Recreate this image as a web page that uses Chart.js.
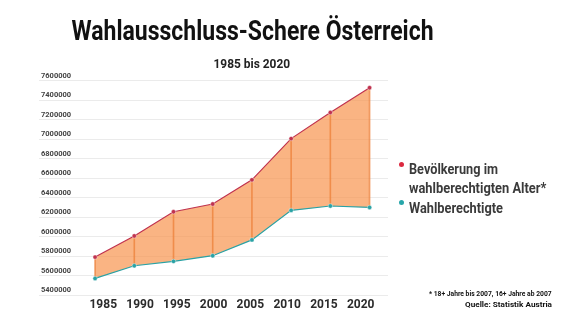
<!DOCTYPE html>
<html>
<head>
<meta charset="utf-8">
<script src="https://cdn.jsdelivr.net/npm/chart.js@4"></script>
<style>
html, body { margin: 0; padding: 0; background: #fff; }
#wrap { position: relative; width: 575px; height: 324px; overflow: hidden; font-family: Roboto, sans-serif; font-weight: 700; }
#wrap canvas { position: absolute; left: 0; top: 0; }
.t { position: absolute; white-space: nowrap; line-height: 1; }
.dot { position: absolute; width: 5px; height: 5px; border-radius: 50%; }
</style>
</head>
<body>
<div id="wrap">
  <canvas id="c" width="575" height="324"></canvas>
  <div class="t" style="font-size:27px;top:18px;color:#111" data-a="c" data-x="252.5" data-w="362">Wahlausschluss-Schere Österreich</div>
  <div class="t" style="font-size:13px;top:57px;color:#222" data-a="c" data-x="251.5" data-w="77">1985 bis 2020</div>

  <span class="dot" style="left:399px;top:161.5px;background:#dc2a40"></span>
  <div class="t" style="font-size:14px;top:162px;color:#3b3b3b" data-a="l" data-x="409.3" data-w="89">Bevölkerung im</div>
  <div class="t" style="font-size:14px;top:181px;color:#3b3b3b" data-a="l" data-x="409.3" data-w="137">wahlberechtigten Alter*</div>
  <span class="dot" style="left:399px;top:200px;background:#27a6aa"></span>
  <div class="t" style="font-size:14px;top:200.5px;color:#3b3b3b" data-a="l" data-x="409.3" data-w="94">Wahlberechtigte</div>

  <div class="t" style="font-size:8px;top:290px;color:#111" data-a="r" data-x="551.7" data-w="123">* 18+ Jahre bis 2007, 16+ Jahre ab 2007</div>
  <div class="t" style="font-size:8px;top:301px;color:#111" data-a="r" data-x="551.7" data-w="87">Quelle: Statistik Austria</div>
</div>
<script>
'use strict';
// Wahlausschluss-Schere: population of voting age vs. eligible voters, Austria 1985-2020.

const years = ['1985', '1990', '1995', '2000', '2005', '2010', '2015', '2020'];
const bevoelkerung = [5791000, 6008000, 6256000, 6335000, 6583000, 7006000, 7274000, 7528000];
const wahlberechtigte = [5572000, 5702000, 5747000, 5805000, 5967000, 6270000, 6315000, 6300000];
const yTicks = [5400000, 5600000, 5800000, 6000000, 6200000, 6400000, 6600000, 6800000, 7000000, 7200000, 7400000, 7600000];

const RED = '#c0334f', TEAL = '#2aa2a5', FILL = 'rgba(248,148,78,0.7)', BAR = 'rgba(236,128,58,0.75)';

// squeeze the html text lines to the widths of the condensed original font
document.querySelectorAll('.t').forEach((el) => {
  const w = el.offsetWidth, target = +el.dataset.w, x = +el.dataset.x, s = target / w;
  if (el.dataset.a === 'c') { el.style.left = (x - w / 2) + 'px'; el.style.transformOrigin = 'center'; }
  else if (el.dataset.a === 'r') { el.style.left = (x - w) + 'px'; el.style.transformOrigin = 'right'; }
  else { el.style.left = x + 'px'; el.style.transformOrigin = 'left'; }
  el.style.transform = 'scaleX(' + s + ')';
});

const pts = (arr) => arr.map((v, i) => ({ x: i, y: v }));

Chart.defaults.font.family = 'Roboto, sans-serif';

new Chart(document.getElementById('c'), {
  type: 'line',
  data: {
    datasets: [
      { label: 'Bevölkerung im wahlberechtigten Alter*', data: pts(bevoelkerung), xAxisID: 'x',
        borderColor: RED, borderWidth: 1.2, backgroundColor: FILL, fill: '+1', tension: 0,
        pointRadius: 2.2, pointBackgroundColor: RED, pointBorderColor: 'rgba(255,255,255,0.5)', pointBorderWidth: 0.8, order: 0 },
      { label: 'Wahlberechtigte', data: pts(wahlberechtigte), xAxisID: 'x',
        borderColor: TEAL, borderWidth: 1.2, fill: false, tension: 0,
        pointRadius: 2.2, pointBackgroundColor: TEAL, pointBorderColor: 'rgba(255,255,255,0.5)', pointBorderWidth: 0.8, order: 0 },
      { type: 'bar', label: 'Schere', xAxisID: 'x',
        data: years.map((_, i) => ({ x: i, y: [wahlberechtigte[i], bevoelkerung[i]] })),
        backgroundColor: BAR, barThickness: 1, order: 5 },
    ],
  },
  options: {
    responsive: false, animation: false,
    layout: { padding: { left: 35, right: 187, top: 80.7, bottom: 8.4 } },
    plugins: {
      legend: { display: false }, title: { display: false }, tooltip: { enabled: false },
      filler: { drawTime: 'beforeDatasetsDraw' },
    },
    scales: {
      x: { type: 'linear', display: false, min: -1.43, max: 7.47, offset: false },
      xl: {
        type: 'linear', position: 'bottom', min: -1.747, max: 7.742,
        grid: { display: false, drawTicks: false }, border: { display: false },
        afterBuildTicks: (a) => { a.ticks = years.map((_, i) => ({ value: i })); },
        ticks: { callback: (v) => years[v], autoSkip: false, maxRotation: 0, padding: 3,
          color: '#2b2b2b', font: { size: 12, weight: 'bold' } },
      },
      y: {
        min: 5400000, max: 7600000,
        afterBuildTicks: (a) => { a.ticks = yTicks.map((v) => ({ value: v })); },
        grid: { color: '#ebebeb', drawTicks: false }, border: { display: false },
        ticks: { mirror: true, padding: 2, labelOffset: -5, autoSkip: false,
          color: '#444', font: { size: 7.5, weight: 'bold' }, callback: (v) => String(v) },
      },
    },
  },
});
</script>
</body>
</html>
